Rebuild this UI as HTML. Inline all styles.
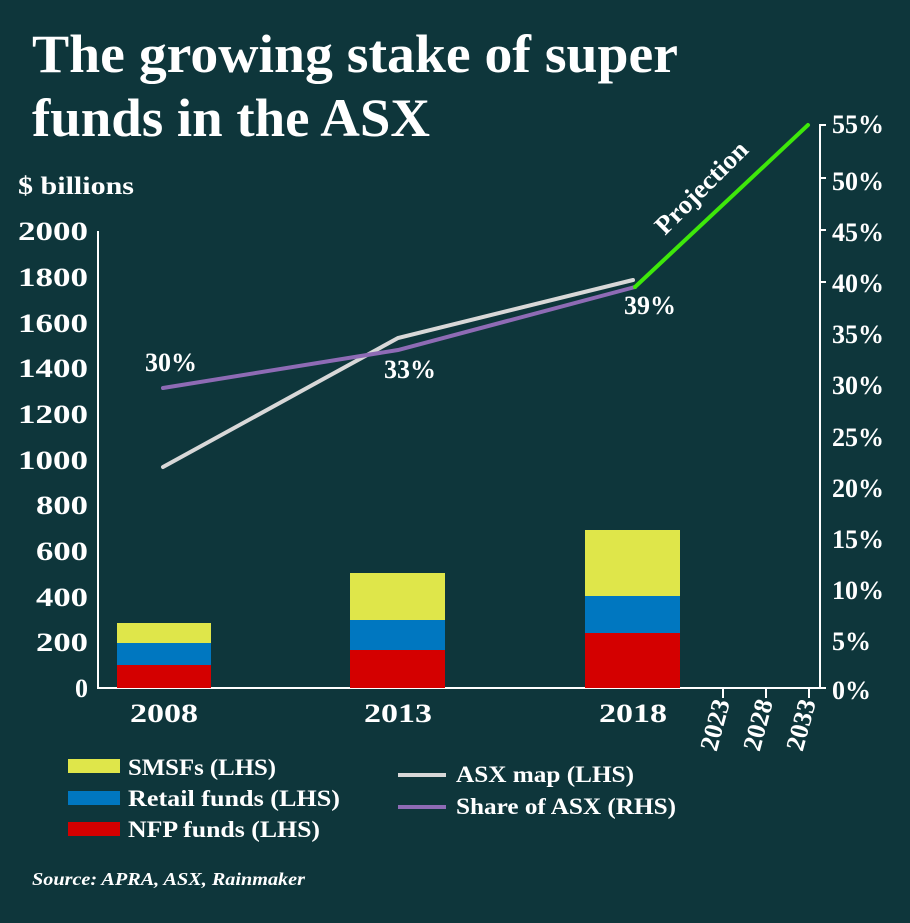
<!DOCTYPE html>
<html><head><style>
body{margin:0;background:#0e363b;}
svg text{font-family:"Liberation Serif",serif;font-weight:bold;fill:#fff;}
</style></head><body>
<svg width="910" height="918" viewBox="0 0 910 918" xmlns="http://www.w3.org/2000/svg">
<rect width="910" height="918" fill="#0e363b"/>
<text x="32" y="72" font-size="54" textLength="646" lengthAdjust="spacingAndGlyphs">The growing stake of super</text>
<text x="32" y="136" font-size="54" textLength="398" lengthAdjust="spacingAndGlyphs">funds in the ASX</text>
<text x="18" y="194" font-size="25" textLength="116" lengthAdjust="spacingAndGlyphs">$ billions</text>
<g font-size="26" text-anchor="end">
<text x="88" y="697">0</text>
<text x="88" y="651" textLength="52" lengthAdjust="spacingAndGlyphs">200</text>
<text x="88" y="606" textLength="52" lengthAdjust="spacingAndGlyphs">400</text>
<text x="88" y="560" textLength="52" lengthAdjust="spacingAndGlyphs">600</text>
<text x="88" y="514" textLength="52" lengthAdjust="spacingAndGlyphs">800</text>
<text x="88" y="469" textLength="70" lengthAdjust="spacingAndGlyphs">1000</text>
<text x="88" y="423" textLength="70" lengthAdjust="spacingAndGlyphs">1200</text>
<text x="88" y="377" textLength="70" lengthAdjust="spacingAndGlyphs">1400</text>
<text x="88" y="332" textLength="70" lengthAdjust="spacingAndGlyphs">1600</text>
<text x="88" y="286" textLength="70" lengthAdjust="spacingAndGlyphs">1800</text>
<text x="88" y="240" textLength="70" lengthAdjust="spacingAndGlyphs">2000</text>
</g>
<g stroke="#fff" stroke-width="2" fill="none">
<line x1="98" y1="231" x2="98" y2="689"/>
<line x1="98" y1="688" x2="826" y2="688"/>
<line x1="820" y1="124" x2="820" y2="688"/>
<line x1="723" y1="688" x2="723" y2="698"/>
<line x1="766" y1="688" x2="766" y2="698"/>
<line x1="809" y1="688" x2="809" y2="698"/>
<line x1="820" y1="125" x2="826" y2="125"/><line x1="820" y1="178" x2="826" y2="178"/>
<line x1="820" y1="230" x2="826" y2="230"/><line x1="820" y1="282" x2="826" y2="282"/>
</g>
<g font-size="26">
<text x="832" y="133">55%</text><text x="832" y="190">50%</text><text x="832" y="241">45%</text>
<text x="832" y="292">40%</text><text x="832" y="343">35%</text><text x="832" y="394">30%</text>
<text x="832" y="446">25%</text><text x="832" y="497">20%</text><text x="832" y="548">15%</text>
<text x="832" y="599">10%</text><text x="832" y="650">5%</text><text x="832" y="699">0%</text>
</g>
<rect x="117" y="665" width="94" height="23" fill="#d40000"/>
<rect x="117" y="643" width="94" height="22" fill="#0077c0"/>
<rect x="117" y="623" width="94" height="20" fill="#dfe64a"/>
<rect x="350" y="650" width="95" height="38" fill="#d40000"/>
<rect x="350" y="620" width="95" height="30" fill="#0077c0"/>
<rect x="350" y="573" width="95" height="47" fill="#dfe64a"/>
<rect x="585" y="633" width="95" height="55" fill="#d40000"/>
<rect x="585" y="596" width="95" height="37" fill="#0077c0"/>
<rect x="585" y="530" width="95" height="66" fill="#dfe64a"/>
<g font-size="26" text-anchor="middle">
<text x="164" y="722" textLength="68" lengthAdjust="spacingAndGlyphs">2008</text>
<text x="398" y="722" textLength="68" lengthAdjust="spacingAndGlyphs">2013</text>
<text x="633" y="722" textLength="68" lengthAdjust="spacingAndGlyphs">2018</text>
</g>
<g font-size="26" text-anchor="end">
<text transform="translate(730,702) rotate(-75)">2023</text>
<text transform="translate(773,702) rotate(-75)">2028</text>
<text transform="translate(816,702) rotate(-75)">2033</text>
</g>
<polyline points="163,467 398,338 633,280" fill="none" stroke="#d8d8d8" stroke-width="4" stroke-linecap="round"/>
<polyline points="163,388 398,350 635,287" fill="none" stroke="#8e6bb5" stroke-width="4" stroke-linecap="round"/>
<line x1="635" y1="287" x2="808" y2="125" stroke="#3ee80a" stroke-width="4" stroke-linecap="round"/>
<text transform="translate(665,236) rotate(-45)" font-size="26" textLength="120" lengthAdjust="spacingAndGlyphs">Projection</text>
<g font-size="26">
<text x="145" y="371">30%</text><text x="384" y="378">33%</text><text x="624" y="314">39%</text>
</g>
<rect x="68" y="759" width="52" height="14" fill="#dfe64a"/>
<rect x="68" y="791" width="52" height="14" fill="#0077c0"/>
<rect x="68" y="822" width="52" height="14" fill="#d40000"/>
<g font-size="23">
<text x="128" y="775" textLength="148" lengthAdjust="spacingAndGlyphs">SMSFs (LHS)</text>
<text x="128" y="806" textLength="212" lengthAdjust="spacingAndGlyphs">Retail funds (LHS)</text>
<text x="128" y="837" textLength="192" lengthAdjust="spacingAndGlyphs">NFP funds (LHS)</text>
<text x="456" y="782" textLength="178" lengthAdjust="spacingAndGlyphs">ASX map (LHS)</text>
<text x="456" y="814" textLength="220" lengthAdjust="spacingAndGlyphs">Share of ASX (RHS)</text>
</g>
<line x1="398" y1="775" x2="446" y2="775" stroke="#d8d8d8" stroke-width="4"/>
<line x1="398" y1="807" x2="446" y2="807" stroke="#8e6bb5" stroke-width="4"/>
<text x="32" y="885" font-size="18" font-style="italic" textLength="273" lengthAdjust="spacingAndGlyphs">Source: APRA, ASX, Rainmaker</text>
</svg>
</body></html>
